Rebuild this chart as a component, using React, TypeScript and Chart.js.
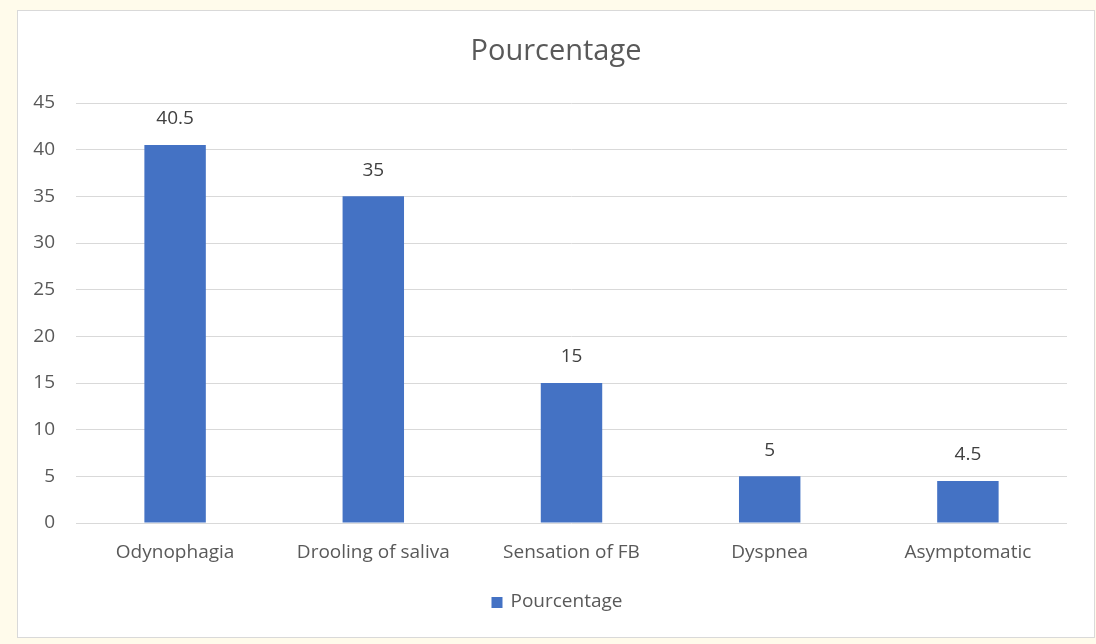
import React, { useEffect, useRef } from "react";
import { Chart, registerables } from "chart.js";

Chart.register(...registerables);

const categories = ["Odynophagia", "Drooling of saliva", "Sensation of FB", "Dyspnea", "Asymptomatic"];
const seriesName = "Pourcentage";
const values = [40.5, 35, 15, 5, 4.5];
const yMin = 0;
const yMax = 45;
const yStep = 5;

const FONT = "'Open Sans', sans-serif";
const TEXT = "#595959";
const BAR = "#4472C4";
const SIZE = 19;

const overlay = {
  id: "overlay",
  afterDatasetsDraw(chart: any) {
    const ctx = chart.ctx;
    const meta = chart.getDatasetMeta(0);
    ctx.save();
    ctx.fillStyle = "#404040";
    ctx.font = `${SIZE}px ${FONT}`;
    ctx.textAlign = "center";
    ctx.textBaseline = "middle";
    meta.data.forEach((bar: any, i: number) => {
      ctx.fillText(String(values[i]), bar.x, bar.y - 26);
    });
    // title
    ctx.fillStyle = TEXT;
    ctx.font = `29px ${FONT}`;
    ctx.fillText(seriesName, 556, 52);
    // legend
    ctx.font = `${SIZE}px ${FONT}`;
    const tw = ctx.measureText(seriesName).width;
    const total = 11 + 8 + tw;
    const x0 = 557 - total / 2;
    ctx.fillStyle = BAR;
    ctx.fillRect(x0, 597, 11, 11);
    ctx.fillStyle = TEXT;
    ctx.textAlign = "left";
    ctx.fillText(seriesName, x0 + 19, 602);
    ctx.restore();
  },
};

export default function App() {
  const ref = useRef<HTMLCanvasElement>(null);
  useEffect(() => {
    if (!ref.current) return;
    const chart = new Chart(ref.current, {
      type: "bar",
      data: {
        labels: categories,
        datasets: [
          {
            label: seriesName,
            data: values,
            backgroundColor: BAR,
            barPercentage: 0.31,
            categoryPercentage: 1,
          },
        ],
      },
      options: {
        animation: false,
        responsive: false,
        maintainAspectRatio: false,
        layout: { padding: { left: 0, right: 29, top: 103, bottom: 0 } },
        plugins: {
          legend: { display: false },
          title: { display: false },
          tooltip: { enabled: false },
        },
        scales: {
          x: {
            grid: { display: false, drawTicks: false },
            border: { display: false },
            ticks: { color: TEXT, font: { family: FONT, size: SIZE }, padding: 18, maxRotation: 0, autoSkip: false },
            afterFit(scale: any) {
              scale.height = 121;
            },
          },
          y: {
            min: yMin,
            max: yMax,
            grid: { color: "#d9d9d9", drawTicks: false, lineWidth: 1 },
            border: { display: false },
            ticks: { stepSize: yStep, color: TEXT, font: { family: FONT, size: SIZE }, padding: 21 },
            afterFit(scale: any) {
              scale.width = 76;
            },
          },
        },
      },
      plugins: [overlay],
    });
    return () => chart.destroy();
  }, []);
  return (
    <div style={{ position: "fixed", left: 0, top: 0, width: 1096, height: 644, background: "#fffbeb" }}>
      <div
        style={{
          position: "absolute",
          left: 17,
          top: 10,
          width: 1076,
          height: 626,
          background: "#ffffff",
          border: "1px solid #d9d9d9",
        }}
      />
      <canvas ref={ref} width={1096} height={644} style={{ position: "absolute", left: 0, top: 0, width: 1096, height: 644 }} />
    </div>
  );
}
